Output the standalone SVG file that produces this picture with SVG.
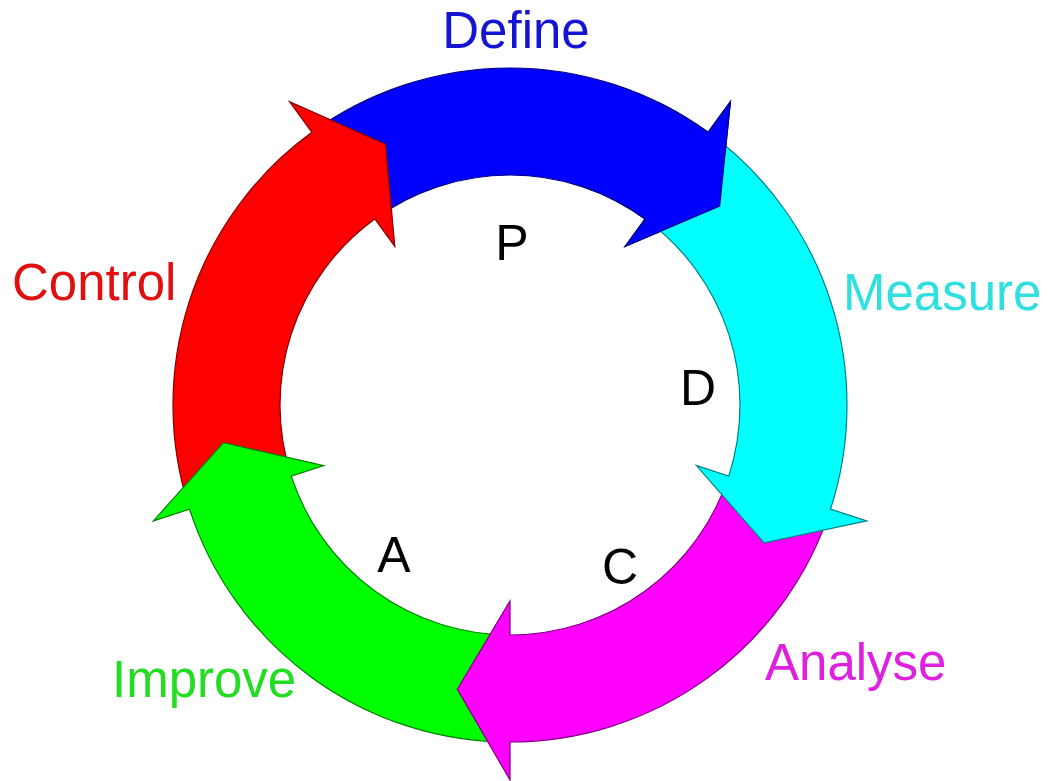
<svg xmlns="http://www.w3.org/2000/svg" xmlns:xlink="http://www.w3.org/1999/xlink" width="1057" height="781" viewBox="0 0 1057 781">
  <style>
    .lbl { font-family: "Liberation Sans", Arial, Helvetica, sans-serif; font-size: 51px; }
    .ltr { font-family: "Liberation Sans", Arial, Helvetica, sans-serif; font-size: 50px; fill: #000; text-anchor: middle; }
    .arr { stroke-width: 1.2; stroke-linejoin: miter; }
  </style>
  <defs>
    <clipPath id="blueHeadClip">
      <polygon points="510,405 729.19,-44.40 963.15,193.69"/>
    </clipPath>
  </defs>
  <rect width="1057" height="781" fill="#fff"/>

  <g id="define">
    <path id="blueArrow" class="arr" fill="#0000FF" stroke="#000080" d="M 311.92,132.36 A 337 337 0 0 1 708.08,132.36 L 730.42,101.62 L 719.63,206.07 L 625.21,246.43 L 645.19,218.93 A 230 230 0 0 0 374.81,218.93 Z"/>
    <text class="lbl" x="516" y="48" fill="#1414D2" text-anchor="middle">Define</text>
    <text class="ltr" x="512" y="260">P</text>
  </g>

  <g id="control">
    <path class="arr" fill="#FF0000" stroke="#800000" d="M 189.49,509.14 A 337 337 0 0 1 311.92,132.36 L 289.58,101.62 L 385.58,144.15 L 394.79,246.43 L 374.81,218.93 A 230 230 0 0 0 291.26,476.07 Z"/>
    <text class="lbl" x="12" y="300" fill="#E01010">Control</text>
  </g>

  <g id="improve">
    <path class="arr" fill="#00FF00" stroke="#008000" d="M 510,742 A 337 337 0 0 1 189.49,509.14 L 153.35,520.88 L 223.47,442.72 L 323.59,465.57 L 291.26,476.07 A 230 230 0 0 0 510,635 Z"/>
    <text class="lbl" x="112" y="697" fill="#22DD22">Improve</text>
    <text class="ltr" x="394" y="572">A</text>
  </g>

  <g id="analyse">
    <path class="arr" fill="#FF00FF" stroke="#800080" d="M 830.51,509.14 A 337 337 0 0 1 510,742 L 510,780 L 457.33,689.16 L 510,601 L 510,635 A 230 230 0 0 0 728.74,476.07 Z"/>
    <text class="lbl" x="765" y="680" fill="#E020E0">Analyse</text>
    <text class="ltr" x="620" y="584">C</text>
  </g>

  <g id="measure">
    <path class="arr" fill="#00FFFF" stroke="#008080" d="M 708.08,132.36 A 337 337 0 0 1 830.51,509.14 L 866.65,520.88 L 763.98,542.90 L 696.41,465.57 L 728.74,476.07 A 230 230 0 0 0 645.19,218.93 Z"/>
    <text class="lbl" x="843" y="310" fill="#30E0E0">Measure</text>
    <text class="ltr" x="698" y="405">D</text>
  </g>

  <g id="connectors">
    <use xlink:href="#blueArrow" clip-path="url(#blueHeadClip)"/>
  </g>
</svg>
